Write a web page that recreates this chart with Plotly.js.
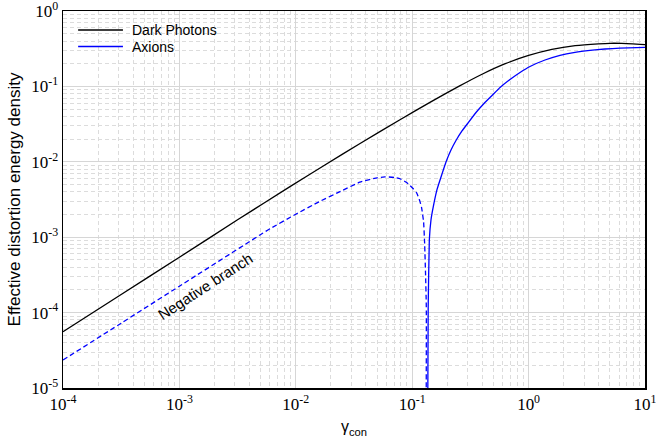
<!DOCTYPE html>
<html><head><meta charset="utf-8">
<script src="https://cdn.plot.ly/plotly-3.0.1.min.js"></script>
<style>html,body{margin:0;padding:0;background:#fff}#chart{width:656px;height:439px}</style>
</head><body><div id="chart"></div>
<script>
// Dark photons
const darkX = [1e-4, 3.16e-4, 1e-3, 3.16e-3, 8.91e-3, 1.778e-2, 3.565e-2, 7.852e-2, 0.142, 0.251, 0.398, 0.631, 1.0, 1.585, 2.512, 3.981, 5.012, 6.31, 10];
const darkY = [5.58e-5, 1.74e-4, 5.42e-4, 1.70e-3, 4.68e-3, 9.08e-3, 1.746e-2, 3.614e-2, 6.14e-2, 0.100, 0.145, 0.200, 0.257, 0.309, 0.347, 0.367, 0.373, 0.372, 0.359];

// Axions, positive branch
const axPosX = [0.1361, 0.1372, 0.1403, 0.1450, 0.1518, 0.1633, 0.1803, 0.1951, 0.2154, 0.2378, 0.2678, 0.3016, 0.3533, 0.4139, 0.4850, 0.5679, 0.692, 0.8436, 1.028, 1.383, 1.861, 2.504, 3.370, 4.532, 6.10, 10];
const axPosY = [6.9e-6, 1.197e-4, 9.18e-4, 1.69e-3, 2.538e-3, 4.266e-3, 6.89e-3, 9.94e-3, 1.434e-2, 1.916e-2, 2.562e-2, 3.271e-2, 4.506e-2, 5.93e-2, 7.57e-2, 9.67e-2, 0.1234, 0.1529, 0.1836, 0.2239, 0.2585, 0.2833, 0.3011, 0.3133, 0.3210, 0.330];

// Axions, negative branch (absolute value)
const axNegX = [1e-4, 3.16e-4, 1e-3, 4.92e-3, 6.0e-3, 0.01, 0.01585, 0.02512, 0.03548, 0.05012, 0.05834, 0.07079, 0.07852, 0.08954, 0.0957, 0.1016, 0.1093, 0.1155, 0.1202, 0.1253, 0.1280, 0.1303, 0.1322, 0.1319];
const axNegY = [2.35e-5, 7.24e-5, 2.24e-4, 1.07e-3, 1.294e-3, 2.018e-3, 2.951e-3, 4.169e-3, 5.370e-3, 6.138e-3, 6.310e-3, 6.209e-3, 5.957e-3, 5.309e-3, 4.85e-3, 4.43e-3, 3.86e-3, 3.11e-3, 2.51e-3, 1.59e-3, 7.88e-4, 3.15e-4, 1.186e-4, 6.9e-6];

const xTickVals = [1e-4, 1e-3, 1e-2, 1e-1, 1, 10];
const xTickText = ['10<sup>-4</sup>', '10<sup>-3</sup>', '10<sup>-2</sup>', '10<sup>-1</sup>', '10<sup>0</sup>', '10<sup>1</sup>'];
const yTickVals = [1e-5, 1e-4, 1e-3, 1e-2, 1e-1, 1];
const yTickText = ['10<sup>-5</sup>', '10<sup>-4</sup>', '10<sup>-3</sup>', '10<sup>-2</sup>', '10<sup>-1</sup>', '10<sup>0</sup>'];

const seriesNames = ['Dark Photons', 'Axions'];
const seriesColors = ['#000000', '#0000ff'];
const annText = 'Negative branch';

const traces = [
  {x: darkX, y: darkY, mode: 'lines', name: seriesNames[0], line: {color: seriesColors[0], width: 1.3, shape: 'spline', smoothing: 0.6}},
  {x: axPosX, y: axPosY, mode: 'lines', name: seriesNames[1], line: {color: seriesColors[1], width: 1.3, shape: 'spline', smoothing: 0.3}},
  {x: axNegX, y: axNegY, mode: 'lines', name: 'neg', line: {color: seriesColors[1], width: 1.3, dash: '5px,3px', shape: 'spline', smoothing: 0.4}}
];

const sansFont = 'Liberation Sans, Arial, sans-serif';
const serifFont = 'Liberation Serif, Times New Roman, serif';
const gridMajor = '#d6d6d6';
const gridMinor = '#dcdcdc';

// hand-drawn legend (paper coordinates)
const legendY0 = 0.9496, legendStep = 0.0438;
const legendShapes = seriesNames.map((n, i) => ({
  type: 'line', xref: 'paper', yref: 'paper',
  x0: 0.026, x1: 0.103, y0: legendY0 - i * legendStep, y1: legendY0 - i * legendStep,
  line: {color: seriesColors[i], width: 1.3}
}));
const legendTexts = seriesNames.map((n, i) => ({
  xref: 'paper', yref: 'paper', x: 0.1152, y: legendY0 - i * legendStep,
  xanchor: 'left', yanchor: 'middle', text: n, showarrow: false,
  font: {family: sansFont, size: 14, color: '#000'}
}));

const axisCommon = {
  type: 'log', tickmode: 'array',
  ticks: '', showline: true, mirror: true, linecolor: '#000', linewidth: 1.5,
  showgrid: true, gridcolor: gridMajor, gridwidth: 1, zeroline: false,
  minor: {dtick: 'D1', showgrid: true, gridcolor: gridMinor, griddash: '4px,3px', gridwidth: 1, ticks: ''},
  tickfont: {family: serifFont, size: 17, color: '#000'},
  ticklabeloverflow: 'allow',
  automargin: false
};

const layout = {
  width: 656, height: 439,
  margin: {l: 63, r: 11, t: 11, b: 51},
  paper_bgcolor: '#ffffff', plot_bgcolor: '#ffffff',
  showlegend: false,
  xaxis: Object.assign({}, axisCommon, {
    range: [-4, 1], tickvals: xTickVals, ticktext: xTickText,
    title: {text: 'γ<sub>con</sub>', font: {family: sansFont, size: 16, color: '#000'}, standoff: 8}
  }),
  yaxis: Object.assign({}, axisCommon, {
    range: [-5, 0], tickvals: yTickVals, ticktext: yTickText,
    title: {text: 'Effective distortion energy density', font: {family: sansFont, size: 17, color: '#000'}, standoff: 6}
  }),
  shapes: legendShapes,
  annotations: [{
    x: -2.78, y: -3.66, xref: 'x', yref: 'y', text: annText, showarrow: false, textangle: -33,
    font: {family: sansFont, size: 15, color: '#000'}
  }].concat(legendTexts)
};

Plotly.newPlot('chart', traces, layout, {displayModeBar: false, staticPlot: true});
</script>
</body></html>
